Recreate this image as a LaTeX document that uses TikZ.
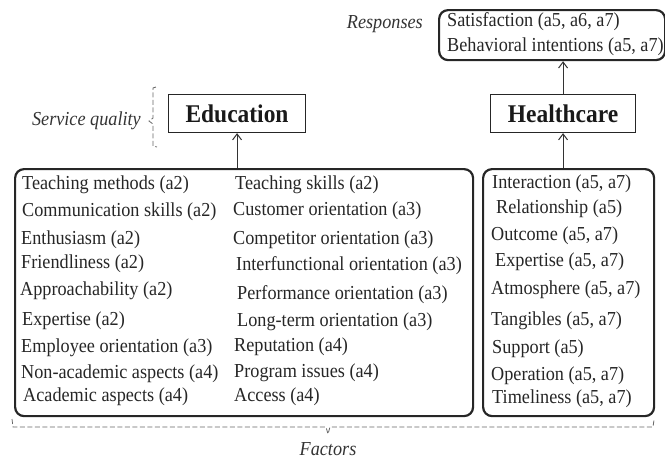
\documentclass[tikz,border=0pt]{standalone}
\usepackage{fontspec}
\setmainfont[FakeStretch=0.92]{Liberation Serif}
\usetikzlibrary{arrows.meta}
\begin{document}
\begin{tikzpicture}[x=1pt,y=-1pt,
  txt/.style={anchor=west,inner sep=0pt,font=\fontsize{19.8}{23}\selectfont,text=black!85},
  lbl/.style={inner sep=0pt,font=\fontsize{19.8}{23}\selectfont\itshape,text=black!80},
  bigbox/.style={draw=black!85,line width=2.2pt,rounded corners=9pt,anchor=north west,inner sep=0pt},
  headbox/.style={draw=black!85,line width=1.1pt,anchor=north west,inner sep=0pt,text=black!90,font=\fontsize{25.5}{29}\selectfont\bfseries},
  conn/.style={draw=black!80,line width=1pt,-{Straight Barb[length=6pt,width=9pt,line width=1pt]}},
  brace/.style={draw=black!60,line width=0.8pt,dash pattern=on 5pt off 2.5pt}]
\useasboundingbox (0,0) rectangle (665,464);

% boxes
\node[bigbox,minimum width=226pt,minimum height=50pt] (resp) at (438,9) {};
\node[headbox,minimum width=137pt,minimum height=38pt] (edu) at (168,94) {Education};
\node[headbox,minimum width=145pt,minimum height=38pt] (hc) at (490,94) {Healthcare};
\node[bigbox,minimum width=458pt,minimum height=247pt] (lbox) at (14,168) {};
\node[bigbox,minimum width=171pt,minimum height=247pt] (rbox) at (482,168) {};

% responses
\node[txt] (r1) at (447,22) {Satisfaction (a5, a6, a7)};
\node[txt] (r2) at (447,47) {Behavioral intentions (a5, a7)};

% left column
\node[txt] (e1) at (22,185) {Teaching methods (a2)};
\node[txt] (e2) at (22,212) {Communication skills (a2)};
\node[txt] (e3) at (21,240) {Enthusiasm (a2)};
\node[txt] (e4) at (21,264) {Friendliness (a2)};
\node[txt] (e5) at (20,291) {Approachability (a2)};
\node[txt] (e6) at (22,321) {Expertise (a2)};
\node[txt] (e7) at (21,348) {Employee orientation (a3)};
\node[txt] (e8) at (21,374) {Non-academic aspects (a4)};
\node[txt] (e9) at (23,397) {Academic aspects (a4)};
% second column
\node[txt] (f1) at (235,185) {Teaching skills (a2)};
\node[txt] (f2) at (233,211) {Customer orientation (a3)};
\node[txt] (f3) at (233,240) {Competitor orientation (a3)};
\node[txt] (f4) at (236,266) {Interfunctional orientation (a3)};
\node[txt] (f5) at (237,295) {Performance orientation (a3)};
\node[txt] (f6) at (237,322) {Long-term orientation (a3)};
\node[txt] (f7) at (234,347) {Reputation (a4)};
\node[txt] (f8) at (234,373) {Program issues (a4)};
\node[txt] (f9) at (234,397) {Access (a4)};
% healthcare column
\node[txt] (h1) at (492,184) {Interaction (a5, a7)};
\node[txt] (h2) at (496,209) {Relationship (a5)};
\node[txt] (h3) at (491,236) {Outcome (a5, a7)};
\node[txt] (h4) at (495,262) {Expertise (a5, a7)};
\node[txt] (h5) at (491,290) {Atmosphere (a5, a7)};
\node[txt] (h6) at (491,321) {Tangibles (a5, a7)};
\node[txt] (h7) at (492,349) {Support (a5)};
\node[txt] (h8) at (491,376) {Operation (a5, a7)};
\node[txt] (h9) at (492,399) {Timeliness (a5, a7)};

% labels
\node[lbl,anchor=east] (sq) at (141,121) {Service quality};
\node[lbl,anchor=east] (rl) at (423,24) {Responses};
\node[lbl] (fl) at (328,449) {Factors};

% connectors
\draw[conn] (edu.south |- lbox.north) -- (edu.south);
\draw[conn] (hc.south |- rbox.north) -- (hc.south);
\draw[conn] (hc.north) -- (hc.north |- resp.south);

% braces
\draw[brace] (156,87) -- (153,88) -- (153,118) -- (149,121) -- (153,124) -- (153,146) -- (157,147);
\draw[brace] (12,419) -- (13,427) -- (326,427) -- (328,434) -- (330,427) -- (653,427) -- (654,420);
\end{tikzpicture}
\end{document}
